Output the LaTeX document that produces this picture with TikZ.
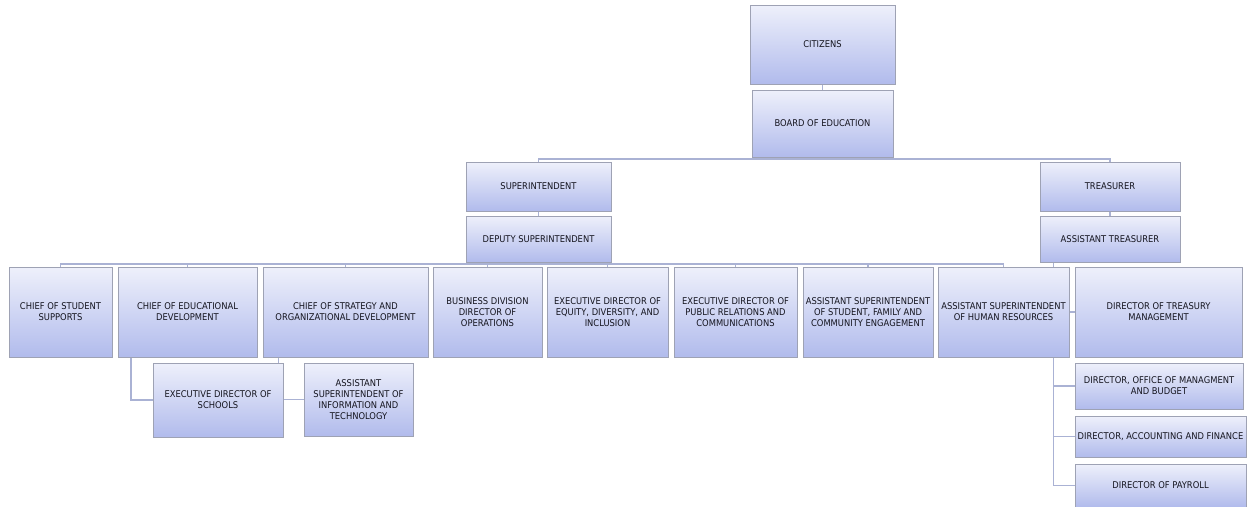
\documentclass[tikz,border=0pt]{standalone}
\usepackage{fontspec}
\setmainfont{DejaVu Sans Condensed}
\usetikzlibrary{shadows,backgrounds}
\definecolor{boxtop}{HTML}{EEF0FB}
\definecolor{boxbot}{HTML}{B1BBEC}
\definecolor{boxline}{HTML}{9EA2B4}
\definecolor{conn}{HTML}{AAB2D4}
\definecolor{txt}{HTML}{14141E}
\tikzset{
  orgbox/.style={draw=boxline, line width=0.9pt, top color=boxtop, bottom color=boxbot,
    drop shadow={shadow xshift=1.3pt, shadow yshift=-1.3pt, opacity=0.45},
    inner sep=0pt, align=center, font=\fontsize{9.3}{10.8}\selectfont, text=txt},
  link/.style={draw=conn, line width=1.3pt}
}
\newcommand{\orgnode}[6]{\node[orgbox, minimum width={#4-#2}, minimum height={#5-#3}] (#1) at ({(#2+#4)/2},{(#3+#5)/2}) {#6};}
\begin{document}
\begin{tikzpicture}[x=1pt,y=-1pt]
\useasboundingbox (0,0) rectangle (1247,506);
\orgnode{cit}{750}{5}{895}{84}{CITIZENS}
\orgnode{boe}{752}{90}{893}{157}{BOARD OF EDUCATION}
\orgnode{sup}{466}{162}{611}{211}{SUPERINTENDENT}
\orgnode{dep}{466}{216}{611}{262}{DEPUTY SUPERINTENDENT}
\orgnode{tre}{1040}{162}{1180}{211}{TREASURER}
\orgnode{atr}{1040}{216}{1180}{262}{ASSISTANT TREASURER}
\orgnode{css}{9}{267}{112}{357}{CHIEF OF STUDENT\\SUPPORTS}
\orgnode{ced}{118}{267}{257}{357}{CHIEF OF EDUCATIONAL\\DEVELOPMENT}
\orgnode{cst}{263}{267}{428}{357}{CHIEF OF STRATEGY AND\\ORGANIZATIONAL DEVELOPMENT}
\orgnode{bdd}{433}{267}{542}{357}{BUSINESS DIVISION\\DIRECTOR OF\\OPERATIONS}
\orgnode{edi}{547}{267}{668}{357}{EXECUTIVE DIRECTOR OF\\EQUITY,  DIVERSITY, AND\\INCLUSION}
\orgnode{epr}{674}{267}{797}{357}{EXECUTIVE DIRECTOR OF\\PUBLIC RELATIONS AND\\COMMUNICATIONS}
\orgnode{asf}{803}{267}{933}{357}{ASSISTANT SUPERINTENDENT\\OF STUDENT,  FAMILY AND\\COMMUNITY ENGAGEMENT}
\orgnode{ahr}{938}{267}{1069}{357}{ASSISTANT SUPERINTENDENT\\OF HUMAN RESOURCES}
\orgnode{dtm}{1075}{267}{1242}{357}{DIRECTOR OF TREASURY\\MANAGEMENT}
\orgnode{dom}{1075}{363}{1243}{409}{DIRECTOR, OFFICE OF MANAGMENT\\AND BUDGET}
\orgnode{daf}{1075}{416}{1246}{457}{DIRECTOR, ACCOUNTING AND FINANCE}
\orgnode{dpr}{1075}{464}{1246}{507}{DIRECTOR OF PAYROLL}
\orgnode{eds}{153}{363}{283}{437}{EXECUTIVE DIRECTOR OF\\SCHOOLS}
\orgnode{ait}{304}{363}{413}{436}{ASSISTANT\\SUPERINTENDENT  OF\\INFORMATION AND\\TECHNOLOGY}
\begin{pgfonlayer}{background}
  \coordinate (bb) at (822.5,159);
  \coordinate (db) at (538.5,264);
  \draw[link] (cit.south) -- (boe.north);
  \draw[link] (boe.south) -- (bb) -| (sup.north);
  \draw[link] (bb) -| (tre.north);
  \draw[link] (sup.south) -- (dep.north);
  \draw[link] (tre.south) -- (atr.north);
  \draw[link] (dep.south) -- (db);
  \foreach \n in {css,ced,cst,bdd,edi,epr,asf,ahr} \draw[link] (db) -| (\n.north);
  \foreach \n in {dtm,dom,daf,dpr} \draw[link] ([xshift=14pt]atr.south west) |- (\n.west);
  \draw[link] ([xshift=13.5pt]ced.south west) |- (eds.west);
  \draw[link] ([xshift=16pt]cst.south west) |- (ait.west);
\end{pgfonlayer}
\end{tikzpicture}
\end{document}
